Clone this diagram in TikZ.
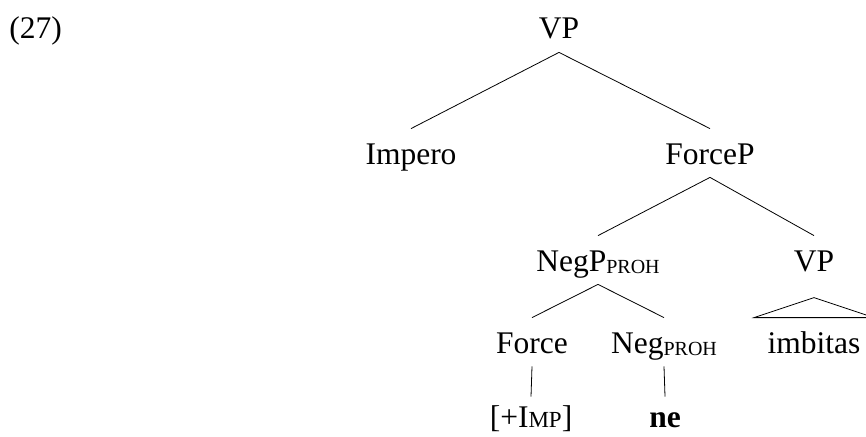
\documentclass[tikz,border=0pt]{standalone}
\usepackage{fontspec}
\setmainfont{Liberation Serif}
\newcommand{\mysub}[1]{\raisebox{-2pt}{\fontsize{20}{21}\selectfont #1}}
\newcommand{\mysc}[1]{{\fontsize{23}{25}\selectfont #1}}
\begin{document}
\begin{tikzpicture}[x=1pt,y=-1pt, font=\fontsize{31.5}{37}\selectfont, line width=0.8pt,
  lab/.style={anchor=base, text height=22pt, text depth=0pt, inner xsep=0pt, inner ysep=13pt},
  leaf/.style={anchor=base, text height=22pt, text depth=0pt, inner xsep=0pt, inner ysep=8pt},
  branch/.style={draw=black, line width=0.8pt}]
\useasboundingbox (0,0) rectangle (866,436);
\clip (0,0) rectangle (866,436);
\node[lab, anchor=base west] (ex) at (9,38) {(27)};
\node[lab] (vp) at (559,39) {VP};
\node[lab] (imp) at (411,164) {Impero};
\node[lab] (fp) at (710,164) {ForceP};
\node[lab] (negp) at (598,271) {NegP\mysub{PROH}};
\node[lab] (vp2) at (814,271) {VP};
\node[lab] (force) at (532,353) {Force};
\node[lab] (neg) at (664,353) {Neg\mysub{PROH}};
\node[lab] (imb) at (814,353) {imbitas};
\node[leaf] (feat) at (531,427) {[+I\mysc{MP}]};
\node[leaf] (ne) at (665,427) {\textbf{ne}};
\draw[branch] (vp.south) -- (imp.north);
\draw[branch] (vp.south) -- (fp.north);
\draw[branch] (fp.south) -- (negp.north);
\draw[branch] (fp.south) -- (vp2.north);
\draw[branch] (negp.south) -- (force.north);
\draw[branch] (negp.south) -- (neg.north);
\draw[branch] (force.south) -- (feat.north);
\draw[branch] (neg.south) -- (ne.north);
\draw[branch] ([xshift=-60pt]imb.north) -- ([yshift=20pt]imb.north) -- ([xshift=60pt]imb.north) -- cycle;
\end{tikzpicture}
\end{document}
